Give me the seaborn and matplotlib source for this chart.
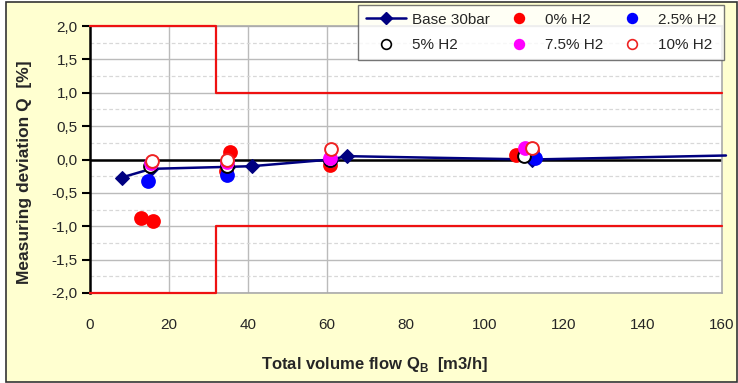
import numpy as np
import pandas as pd
import matplotlib
matplotlib.use("Agg")
import matplotlib.pyplot as plt
from matplotlib.lines import Line2D
from matplotlib.patches import Rectangle
import seaborn as sns

# ---- data ----
base_x = [8, 15.5, 35, 41, 61, 65, 112, 161]
base_y = [-0.27, -0.14, -0.11, -0.10, 0.0, 0.05, 0.0, 0.06]

h0_x = [12.9, 16.0, 34.4, 35.4, 60.8, 107.8, 112.0]
h0_y = [-0.88, -0.92, -0.17, 0.11, -0.08, 0.07, 0.12]

h25_x = [14.6, 34.6, 60.8, 112.7]
h25_y = [-0.32, -0.23, 0.0, 0.02]

h5_x = [15.3, 34.6, 60.8, 109.8]
h5_y = [-0.10, -0.10, 0.0, 0.05]

h75_x = [15.4, 34.6, 60.8, 110.1]
h75_y = [-0.05, -0.03, 0.02, 0.17]

h10_x = [15.6, 34.6, 61.0, 111.8]
h10_y = [-0.02, 0.0, 0.16, 0.17]

limit_x = [0, 32, 32, 160]
limit_upper = [2, 2, 1, 1]
limit_lower = [-2, -2, -1, -1]

x_ticks = [0, 20, 40, 60, 80, 100, 120, 140, 160]
y_ticks = [-2.0, -1.5, -1.0, -0.5, 0.0, 0.5, 1.0, 1.5, 2.0]

labels = ["Base 30bar", "0% H2", "2.5% H2", "5% H2", "7.5% H2", "10% H2"]

# ---- style ----
sns.set_style("white")
plt.rcParams['font.family'] = ['Liberation Sans', 'DejaVu Sans']
plt.rcParams['mathtext.fontset'] = 'custom'
plt.rcParams['mathtext.rm'] = 'Liberation Sans'
plt.rcParams['mathtext.bf'] = 'Liberation Sans:bold'

fig = plt.figure(figsize=(7.38, 3.83), dpi=100)
fig.patch.set_facecolor('white')
fig.patches.append(Rectangle((6/738, 0.002), 1 - 6/738 - 0.002, 0.994,
                             transform=fig.transFigure, facecolor='#FFFFD0',
                             edgecolor='#333333', linewidth=1.2, zorder=-10))

ax = fig.add_axes([90/738, 1 - 293/383, (722-90)/738, (293-26)/383])
ax.set_facecolor('white')

navy = '#000080'
ms = 85

# limits
ax.plot(limit_x, limit_upper, color='#EE1111', lw=1.6, zorder=3, clip_on=False)
ax.plot(limit_x, limit_lower, color='#EE1111', lw=1.6, zorder=3, clip_on=False)
ax.axhline(0, color='black', lw=1.8, zorder=2)

# base series
base_df = pd.DataFrame({'x': base_x, 'y': base_y})
sns.lineplot(data=base_df, x='x', y='y', ax=ax, color=navy, lw=1.8, marker='D',
             markersize=7, markeredgecolor=navy, sort=False, zorder=4, clip_on=False,
             markevery=list(range(len(base_x) - 1)))

def scat(xs, ys, face, edge, z):
    df = pd.DataFrame({'x': xs, 'y': ys})
    sns.scatterplot(data=df, x='x', y='y', ax=ax, s=ms, color=face,
                    edgecolor=edge, linewidth=1.4, zorder=z)

scat(h0_x, h0_y, '#FF0000', '#FF0000', 5)
scat(h25_x, h25_y, '#0000FF', '#0000FF', 6)
scat(h5_x, h5_y, 'white', 'black', 7)
scat(h75_x, h75_y, '#FF00FF', '#FF00FF', 8)
scat(h10_x, h10_y, 'white', '#EE2222', 9)

ax.set_xlim(0, 160)
ax.set_ylim(-2, 2)
ax.set_xticks(x_ticks)
ax.set_yticks(y_ticks)
ax.set_yticklabels([f"{v:.1f}".replace('.', ',') for v in y_ticks])
ax.set_yticks(np.arange(-1.75, 2.0, 0.5), minor=True)

ax.tick_params(axis='y', which='major', direction='out', length=6, width=1.5,
               color='black', labelsize=11, pad=3, left=True)
ax.tick_params(axis='y', which='minor', length=0)
ax.tick_params(axis='x', length=0, labelsize=11, pad=18)

ax.grid(True, axis='y', which='major', color='#BBBBBB', lw=1.0)
ax.grid(True, axis='y', which='minor', color='#D8D8D8', lw=0.9, ls=(0, (3, 2)))
ax.grid(True, axis='x', which='major', color='#BBBBBB', lw=1.0)
for t, gl in zip(ax.get_xticks(), ax.xaxis.get_gridlines()):
    if t <= 0 or t > 60:
        gl.set_visible(False)
ax.set_axisbelow(True)

for side in ['top', 'right', 'bottom']:
    ax.spines[side].set_color('#AAAAAA')
    ax.spines[side].set_linewidth(1.2)
ax.spines['left'].set_color('black')
ax.spines['left'].set_linewidth(1.8)

ax.set_xlabel(r"Total volume flow Q$_{\mathbf{B}}$  [m3/h]", fontsize=12,
              fontweight='bold')
ax.set_ylabel("Measuring deviation Q  [%]", fontsize=12.5, fontweight='bold')
ax.xaxis.set_label_coords(0.451, -0.232)
ax.yaxis.set_label_coords(-0.092, 0.453)

# legend
h_base = Line2D([], [], color=navy, lw=1.8, marker='D', markersize=6)
def mk(face, edge):
    return Line2D([], [], ls='none', marker='o', markersize=7,
                  markerfacecolor=face, markeredgecolor=edge, markeredgewidth=1.2)
handles = [h_base, mk('white', 'black'), mk('#FF0000', '#FF0000'), mk('#FF00FF', '#FF00FF'),
           mk('#0000FF', '#0000FF'), mk('white', '#EE2222')]
leg_labels = [labels[0], labels[3], labels[1], labels[4], labels[2], labels[5]]
leg = fig.legend(handles, leg_labels, ncol=3, loc='upper right',
                 bbox_to_anchor=(724/738, 1 - 5/383), fontsize=11,
                 frameon=True, fancybox=False, edgecolor='#555555',
                 handlelength=2.6, handletextpad=0.4, columnspacing=0.6,
                 borderpad=0.5, labelspacing=0.75, borderaxespad=0)
leg.get_frame().set_linewidth(1.0)
leg.set_zorder(20)

fig.savefig('out.png', dpi=100, facecolor=fig.get_facecolor())
